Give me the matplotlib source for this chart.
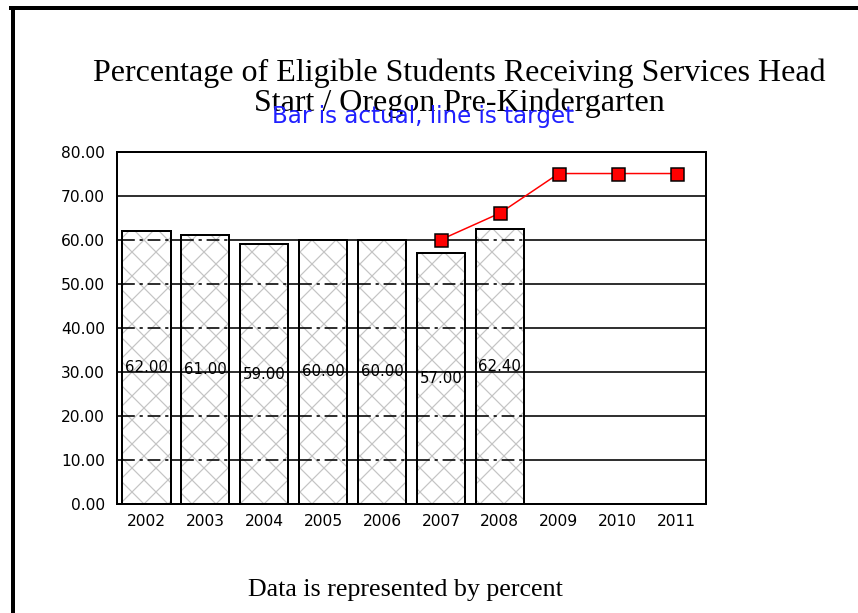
import matplotlib
matplotlib.use("Agg")
import matplotlib.pyplot as plt
from matplotlib.lines import Line2D

years = ["2002", "2003", "2004", "2005", "2006", "2007", "2008", "2009", "2010", "2011"]
actual = [62.00, 61.00, 59.00, 60.00, 60.00, 57.00, 62.40]
target_years = ["2007", "2008", "2009", "2010", "2011"]
target = [60.0, 66.0, 75.0, 75.0, 75.0]
yticks = [0, 10, 20, 30, 40, 50, 60, 70, 80]

title_lines = ["Percentage of Eligible Students Receiving Services Head",
               "Start / Oregon Pre-Kindergarten"]
subtitle = "Bar is actual, line is target"
footer = "Data is represented by percent"

DPI = 72
W, H = 858, 613
plt.rcParams['hatch.linewidth'] = 1.2
fig = plt.figure(figsize=(W / DPI, H / DPI), dpi=DPI)
fig.patch.set_facecolor("white")

left, right, top, bottom = 117, 706, 151.5, 504
ax = fig.add_axes([left / W, 1 - bottom / H, (right - left) / W, (bottom - top) / H])

x = list(range(len(years)))
xa = x[:len(actual)]
xt = [years.index(y) for y in target_years]

# solid gridlines under bars
for v in yticks[1:-1]:
    ax.axhline(v, color="black", lw=1.6, zorder=0.5)

bw = 0.82
ax.bar(xa, actual, width=bw, color="white", edgecolor="#c4c4c4", hatch="x", linewidth=0, zorder=1)
ax.bar(xa, actual, width=bw, facecolor="none", edgecolor="black", linewidth=2, zorder=2)

# gridlines seen through bars (dash-dot, except 30 which stays solid)
for xi, h in zip(xa, actual):
    for v in yticks[1:-1]:
        if v < h:
            ls = "-" if v == 30 else (0, (8, 3, 2, 3))
            ax.hlines(v, xi - bw / 2, xi + bw / 2, color="black", lw=1.6,
                      linestyle=ls, zorder=2.5)

for xi, v in zip(xa, actual):
    ax.text(xi, v / 2, f"{v:.2f}", ha="center", va="center", fontsize=15,
            family="DejaVu Sans", color="black", zorder=3)

ax.plot(xt, target, color="red", lw=1.5, marker="s", markersize=13,
        markerfacecolor="red", markeredgecolor="black", markeredgewidth=1.5, zorder=4)

ax.set_xlim(-0.5, len(years) - 0.5)
ax.set_ylim(0, 80)
ax.set_xticks(x)
ax.set_xticklabels(years, fontsize=15.5, family="DejaVu Sans")
ax.set_yticks(yticks)
ax.set_yticklabels([f"{v:.2f}" for v in yticks], fontsize=15.5, family="DejaVu Sans")
ax.tick_params(length=0, pad=10)
ax.tick_params(axis="y", pad=12)
for s in ax.spines.values():
    s.set_linewidth(2)
    s.set_color("black")

# outer frame (left and top only)
fig.add_artist(Line2D([13 / W, 13 / W], [0, 1 - 7.5 / H], color="black", lw=4, transform=fig.transFigure))
fig.add_artist(Line2D([11 / W, 1], [1 - 7.5 / H, 1 - 7.5 / H], color="black", lw=4, transform=fig.transFigure))

fig.text(459 / W, 1 - 73 / H, title_lines[0], ha="center", va="center", fontsize=32,
         family="Liberation Serif")
fig.text(459 / W, 1 - 103 / H, title_lines[1], ha="center", va="center", fontsize=32,
         family="Liberation Serif")
fig.text(423 / W, 1 - 117 / H, subtitle, ha="center", va="center", fontsize=23,
         family=["Liberation Sans Narrow", "DejaVu Sans"], color="#2020ff")
fig.text(405 / W, 1 - 590 / H, footer, ha="center", va="center", fontsize=26,
         family="Liberation Serif")

fig.savefig("out.png", dpi=DPI)
